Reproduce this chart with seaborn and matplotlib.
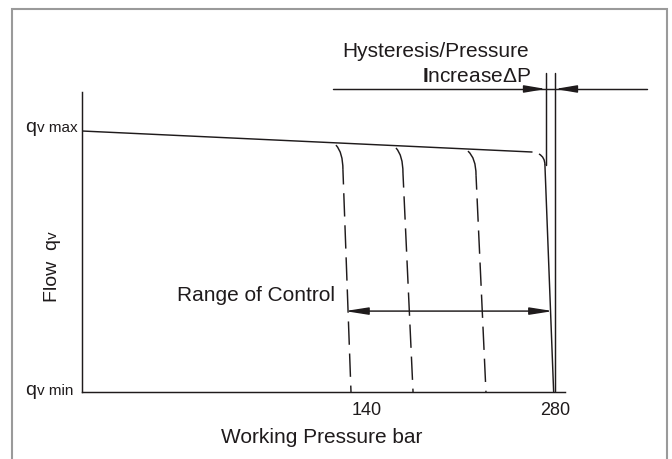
import matplotlib
matplotlib.use("Agg")
import matplotlib.pyplot as plt
import matplotlib.transforms as mtransforms
from matplotlib.path import Path
from matplotlib.patches import PathPatch, Rectangle
import seaborn as sns

# Pressure in bar, flow in % of qv max
flat_p = [-72.2, 262.9]          # uncontrolled delivery line
flat_q = [100.0, 91.95]

hook_start_p = [116.9, 161.6, 215.2, 268.1]
hook_start_q = [94.6, 93.5, 92.3, 91.2]
hook_end_p = [122.1, 166.8, 221.2, 272.5]
hook_end_q = [85.1, 83.9, 83.1, 87.0]
cutoff_p = [128.1, 174.3, 228.6, 279.0]   # where each control curve reaches qv min

hyst_lines_p = [273.3, 280.0]    # hysteresis band limits
hyst_lines_bottom_q = [87.0, 0.0]
hyst_top_q = 122.2
hyst_dim_q = 116.1
hyst_dim_p = [114.7, 348.5]
hyst_head_tail_p = [259.9, 292.7]

range_p = [123.6, 278.5]         # range of control
range_q = 31.0

x_ticks = [140, 280]
x_tick_labels = ["140", "280"]

ink = "#1f1b1c"

sns.set_theme(style="white")
plt.rcParams["font.family"] = ["Liberation Sans", "DejaVu Sans"]
plt.rcParams["mathtext.fontset"] = "custom"
plt.rcParams["mathtext.rm"] = "Liberation Sans"
plt.rcParams["mathtext.bf"] = "Liberation Sans:bold"

fig = plt.figure(figsize=(6.72, 4.59), dpi=100)
fig.patch.set_facecolor("white")
ax = fig.add_axes([82 / 672, 67 / 459, 567 / 672, 352.35 / 459])
ax.set_xlim(-72.2, 350)
ax.set_ylim(0, 135)
ax.set_facecolor("none")

lw = 1.05

# delivery line at maximum flow
sns.lineplot(x=flat_p, y=flat_q, ax=ax, color=ink, lw=lw, sort=False, estimator=None)

# control curves: rounded knee, then the drop to qv min
for i in range(len(hook_start_p)):
    sp, sq = hook_start_p[i], hook_start_q[i]
    ep, eq = hook_end_p[i], hook_end_q[i]
    knee = Path([(sp, sq), (ep, sq - 0.3 * (sq - eq)), (ep, eq)],
                [Path.MOVETO, Path.CURVE3, Path.CURVE3])
    ax.add_patch(PathPatch(knee, fill=False, ec=ink, lw=lw))
    sns.lineplot(x=[ep, cutoff_p[i]], y=[eq, 0.0], ax=ax, color=ink, lw=lw,
                 sort=False, estimator=None)
    if i < len(hook_start_p) - 1:
        ax.lines[-1].set_linestyle((6, (16, 6)))

# hysteresis band
for p, qb in zip(hyst_lines_p, hyst_lines_bottom_q):
    sns.lineplot(x=[p, p], y=[hyst_top_q, qb], ax=ax, color=ink, lw=lw,
                 sort=False, estimator=None)
sns.lineplot(x=hyst_dim_p, y=[hyst_dim_q, hyst_dim_q], ax=ax, color=ink, lw=lw,
             sort=False, estimator=None)
for tail, tip in zip(hyst_head_tail_p, hyst_lines_p):
    ax.annotate("", xy=(tip, hyst_dim_q), xytext=(tail, hyst_dim_q),
                arrowprops=dict(arrowstyle="-|>,head_length=1.3,head_width=0.22",
                                color=ink, lw=lw, shrinkA=0, shrinkB=0,
                                mutation_scale=10))

# range of control dimension
ax.annotate("", xy=(range_p[1], range_q), xytext=(range_p[0], range_q),
            arrowprops=dict(arrowstyle="<|-|>,head_length=1.4,head_width=0.22",
                            color=ink, lw=lw, shrinkA=0, shrinkB=0,
                            mutation_scale=10))

ax.text(260.6, 128.4, "Hysteresis/Pressure", ha="right", va="baseline",
        fontsize=15, color=ink)
ax.text(262.1, 118.9, r"$\mathbf{I}$ncreaseΔP", ha="right", va="baseline",
        fontsize=15, color=ink)
ax.text(116.2, 34.9, "Range of Control", ha="right", va="baseline",
        fontsize=15, color=ink)

# axes
for side in ["top", "right"]:
    ax.spines[side].set_visible(False)
for side in ["left", "bottom"]:
    ax.spines[side].set_color(ink)
    ax.spines[side].set_linewidth(lw)
ax.spines["left"].set_bounds(0, 115)
ax.spines["bottom"].set_bounds(-72.2, 287.4)

ax.set_yticks([])
ax.set_xticks(x_ticks, x_tick_labels)
ax.tick_params(axis="x", length=0, pad=7, labelsize=13, colors=ink)

blend = mtransforms.blended_transform_factory(ax.transAxes, ax.transData)
for q_level, sub, q_base in [(100, "v max", 99.7), (0, "v min", -1.1)]:
    ax.text(-0.1005, q_base, "q", transform=blend, ha="left", va="baseline",
            fontsize=14, color=ink)
    ax.text(-0.0794, q_base, sub, transform=blend, ha="left", va="baseline",
            fontsize=11, color=ink)

ax.text(-0.0441, 0.2554, "Flow  q", transform=ax.transAxes, rotation=90,
        rotation_mode="anchor", ha="left", va="baseline", fontsize=14, color=ink)
ax.text(-0.0441, 0.4342, "v", transform=ax.transAxes, rotation=90,
        rotation_mode="anchor", ha="left", va="baseline", fontsize=11, color=ink)

ax.text((422 - 82) / 567, (392 - 443) / 352.35, "Working Pressure bar",
        transform=ax.transAxes, ha="right", va="baseline", fontsize=15, color=ink)

# outer frame
fig.add_artist(Rectangle((12 / 672, -0.2), 655 / 672, (459 - 9) / 459 + 0.2,
                         transform=fig.transFigure, fill=False, ec="#9a9a9a",
                         lw=1.5, clip_on=False))

fig.savefig("out.png", dpi=100)
